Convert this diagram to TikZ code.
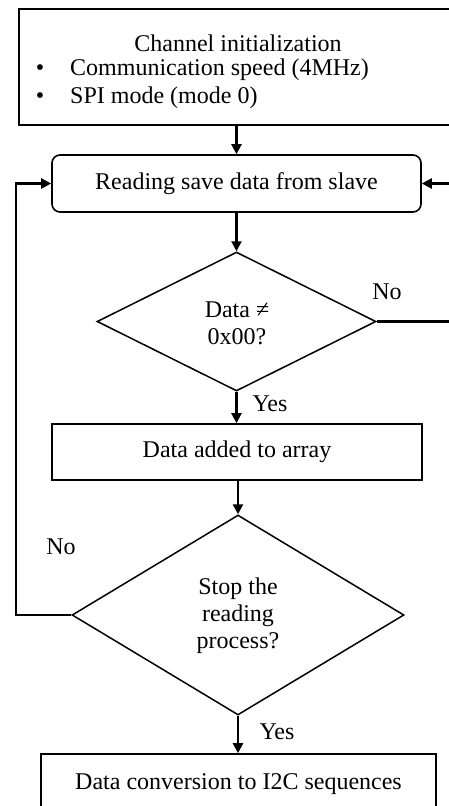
\documentclass[tikz,border=0pt]{standalone}
\usepackage{fontspec}
\setmainfont{Liberation Serif}
\usetikzlibrary{shapes.geometric,arrows.meta}
\tikzset{
  x=1pt,y=1pt,
  every node/.style={font=\fontsize{24}{27}\selectfont},
  boxnode/.style={draw, line width=1.6pt, rectangle, inner sep=0pt},
  roundnode/.style={draw, line width=1.6pt, rectangle, rounded corners=8pt, inner sep=0pt},
  decnode/.style={draw, line width=1.5pt, diamond, inner sep=0pt, align=center},
  txt/.style={inner sep=0pt, align=center},
  flow/.style={line width=2.2pt, -{Triangle[length=10pt,width=10pt]}},
  plain/.style={line width=2.2pt}
}
\begin{document}
\begin{tikzpicture}
\useasboundingbox (0,0) rectangle (449,-806);
\clip (0,0) rectangle (449,-806);
% top box
\node[boxnode, minimum width=452pt, minimum height=116pt, anchor=north west] (init) at (18,-8) {};
\node[txt] (t0) at (238,-43) {Channel initialization};
\node[txt] (b1) at (40,-70) {•};
\node[txt, anchor=west] (t1) at (70,-70) {Communication speed (4MHz)};
\node[txt] (b2) at (40,-98) {•};
\node[txt, anchor=west] (t2) at (70,-98) {SPI mode (mode 0)};
% reading
\node[roundnode, minimum width=369pt, minimum height=57pt] (read) at (236.5,-183.5) {Reading save data from slave};
% decision 1
\node[decnode, minimum width=279pt, minimum height=139pt] (d1) at (236.5,-321.5) {};
\node[txt] (d1t) at (237,-323) {Data ≠\\0x00?};
% add
\node[boxnode, minimum width=370pt, minimum height=56pt] (add) at (237,-452) {Data added to array};
% decision 2
\node[decnode, minimum width=332pt, minimum height=200pt] (d2) at (238,-615) {};
\node[txt] (d2t) at (238,-616) {Stop the\\reading\\process?};
% conversion
\node[boxnode, minimum width=395pt, minimum height=60pt] (conv) at (238.5,-784) {Data conversion to I2C sequences};
% labels
\node[txt] (no1) at (387,-292) {No};
\node[txt] (yes1) at (270,-404) {Yes};
\node[txt] (no2) at (61,-547) {No};
\node[txt] (yes2) at (277,-732) {Yes};
% helper coordinates
\coordinate (r1) at (460,-321.5);
\coordinate (r2) at (460,-183.5);
\coordinate (l1) at (16,-615);
\coordinate (l2) at (16,-183.5);
% connectors
\draw[flow] (init.south -| read.north) -- (read.north);
\draw[flow] (read.south) -- (d1.north);
\draw[flow] (d1.south) -- (d1.south |- add.north);
\draw[flow] (add.south -| d2.north) -- (d2.north);
\draw[flow] (d2.south) -- (d2.south |- conv.north);
\draw[plain] (d1.east) -- (r1);
\draw[flow] (r2) -- (read.east);
\draw[flow] (d2.west) -- (l1) -- (l2) -- (read.west);
\end{tikzpicture}
\end{document}
